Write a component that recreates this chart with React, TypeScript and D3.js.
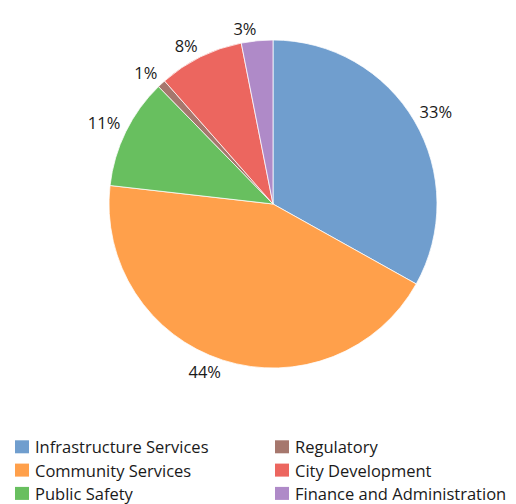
import { useEffect, useRef } from "react";
import * as d3 from "d3";

const categories = [
  "Infrastructure Services",
  "Community Services",
  "Public Safety",
  "Regulatory",
  "City Development",
  "Finance and Administration",
];
const values = [33.1, 43.7, 10.9, 0.8, 8.4, 3.1];
const colors = ["#709ECE", "#FFA04B", "#68BF5F", "#A6776D", "#EC665F", "#AF8AC8"];

const width = 516;
const height = 504;
const font = "'Open Sans', 'Noto Sans', sans-serif";

const App = () => {
  const ref = useRef<SVGSVGElement | null>(null);

  useEffect(() => {
    const svg = d3.select(ref.current);
    svg.selectAll("*").remove();

    const cx = 273;
    const cy = 204;
    const radius = 164;
    const total = d3.sum(values);

    const data = categories.map((name, i) => ({ name, value: values[i] }));
    const color = d3.scaleOrdinal<string, string>().domain(categories).range(colors);

    const pie = d3
      .pie<{ name: string; value: number }>()
      .value((d) => d.value)
      .sort(null);
    const arc = d3
      .arc<d3.PieArcDatum<{ name: string; value: number }>>()
      .innerRadius(0)
      .outerRadius(radius);

    const arcs = pie(data);
    const g = svg.append("g").attr("transform", `translate(${cx},${cy})`);

    g.selectAll("path")
      .data(arcs)
      .enter()
      .append("path")
      .attr("d", arc)
      .attr("fill", (d) => color(d.data.name))
      .attr("stroke", "white")
      .attr("stroke-width", 0.75);

    // labels: the box corner nearest the pie sits on the mid-angle ray, just outside
    const gap = 6;
    const capH = 11.8;

    arcs.forEach((d) => {
      const label = Math.round((d.value / total) * 100) + "%";
      const mid = (d.startAngle + d.endAngle) / 2;
      const dx = Math.sin(mid);
      const dy = -Math.cos(mid);
      const px = (radius + gap) * dx;
      const py = (radius + gap) * dy;
      const top = dy > 0 ? py : py - capH;
      const t = g
        .append("text")
        .attr("y", top + capH)
        .style("font-family", font)
        .style("font-size", "16.5px")
        .attr("fill", "#1a1a1a")
        .text(label);
      const w = (t.node() as SVGTextElement).getComputedTextLength();
      t.attr("x", dx > 0 ? px : px - w);
    });

    // legend, two columns of three
    const legend = svg
      .selectAll("g.legend")
      .data(categories)
      .enter()
      .append("g")
      .attr("class", "legend")
      .attr("transform", (_, i) => {
        const col = Math.floor(i / 3);
        const row = i % 3;
        return `translate(${15 + col * 260},${453.3 + row * 23.3})`;
      });

    legend
      .append("rect")
      .attr("x", 0)
      .attr("y", -13)
      .attr("width", 14)
      .attr("height", 13)
      .attr("fill", (d) => color(d));

    legend
      .append("text")
      .attr("x", 20)
      .attr("y", 0)
      .style("font-family", font)
      .style("font-size", "16.5px")
      .attr("fill", "#1a1a1a")
      .text((d) => d);
  }, []);

  return (
    <svg
      ref={ref}
      width={width}
      height={height}
      style={{ position: "absolute", left: 0, top: 0, background: "white" }}
    />
  );
};

export default App;
